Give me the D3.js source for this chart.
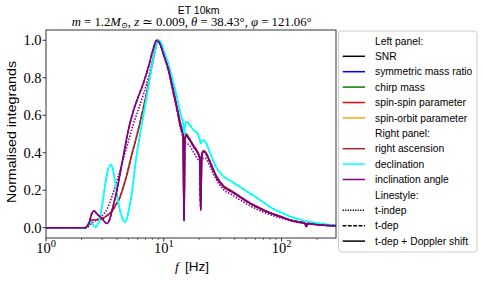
<!DOCTYPE html>
<html>
<head>
<meta charset="utf-8">
<script src="https://cdn.jsdelivr.net/npm/d3@7"></script>
<style>
  body { margin: 0; background: #fff; }
  svg { display: block; }
</style>
</head>
<body>
<svg id="chart" width="482" height="281"></svg>
<script>
// declination (t-dep + Doppler)
const decFreq = [1, 2.1, 2.25, 2.36, 2.5, 2.62, 2.8, 3.0, 3.2, 3.4, 3.55, 3.7, 3.9, 4.1, 4.4, 4.7, 5.0, 5.4, 5.8, 6.3, 6.8, 7.3, 7.8, 8.3, 8.8, 9.15, 9.6, 10.2, 11, 12, 13, 14, 14.6, 14.9, 15.2, 15.6, 16.5, 18, 19.5, 20.2, 20.6, 21.0, 21.6, 22.5, 25, 28, 32, 38, 45, 55, 65, 80, 100, 120, 140, 160, 200, 250, 290];
const decVal  = [0, 0, 0.01, 0.03, 0.015, 0.005, 0.03, 0.12, 0.24, 0.32, 0.335, 0.31, 0.23, 0.14, 0.06, 0.03, 0.08, 0.2, 0.36, 0.5, 0.62, 0.73, 0.84, 0.93, 0.99, 1.0, 0.98, 0.93, 0.87, 0.78, 0.69, 0.6, 0.56, 0.49, 0.55, 0.565, 0.55, 0.52, 0.5, 0.47, 0.45, 0.46, 0.468, 0.46, 0.39, 0.32, 0.275, 0.245, 0.215, 0.18, 0.15, 0.11, 0.08, 0.058, 0.045, 0.036, 0.025, 0.017, 0.014];

// inclination angle (t-dep + Doppler)
const incFreq = [1, 2.15, 2.3, 2.45, 2.55, 2.7, 2.85, 3.0, 3.15, 3.3, 3.45, 3.7, 4.0, 4.5, 5.0, 5.5, 6.0, 6.7, 7.5, 8.1, 8.7, 9.2, 10, 11, 12, 13, 14, 14.6, 14.86, 15.1, 15.5, 16.5, 18, 19.5, 20.2, 20.6, 21.0, 21.6, 22.5, 25, 28, 32, 38, 44, 52, 61, 72, 84, 100, 117, 140, 158, 162, 167, 200, 250, 290];
const incVal  = [0, 0, 0.02, 0.075, 0.09, 0.075, 0.06, 0.05, 0.03, 0.022, 0.04, 0.11, 0.2, 0.37, 0.52, 0.62, 0.69, 0.77, 0.87, 0.95, 1.0, 0.985, 0.92, 0.84, 0.73, 0.63, 0.53, 0.49, 0.037, 0.47, 0.49, 0.47, 0.43, 0.397, 0.37, 0.094, 0.38, 0.405, 0.4, 0.34, 0.27, 0.22, 0.19, 0.165, 0.135, 0.112, 0.09, 0.073, 0.057, 0.041, 0.03, 0.024, 0.005, 0.022, 0.016, 0.012, 0.01];

// inclination angle (t-indep)
const incIndepFreq = [1, 2.2, 2.4, 2.6, 2.8, 3.0, 3.3, 3.6, 4.0, 4.5, 5.0, 5.5, 6.0, 6.7, 7.4, 8.0, 8.6, 8.9, 9.3, 10, 11, 12, 13, 14, 15, 16.5, 18, 20, 21, 22.5, 25, 28, 32, 38, 44, 52, 61, 72, 84, 100, 120, 160, 200, 290];
const incIndepVal  = [0, 0, 0.02, 0.035, 0.05, 0.065, 0.1, 0.16, 0.25, 0.36, 0.46, 0.55, 0.62, 0.71, 0.8, 0.89, 0.98, 1.0, 0.985, 0.92, 0.83, 0.72, 0.62, 0.52, 0.46, 0.44, 0.4, 0.36, 0.37, 0.37, 0.32, 0.255, 0.205, 0.175, 0.15, 0.122, 0.1, 0.08, 0.065, 0.05, 0.036, 0.022, 0.015, 0.01];

// right ascension (t-dep + Doppler)
const raFreq = [1, 2.15, 2.3, 2.45, 2.7, 3.0, 3.3, 3.6, 3.9, 4.2, 4.5, 4.85, 5.3, 5.9, 6.5, 7.1, 7.8, 8.4, 8.9, 9.3, 10, 11, 12, 13, 14, 14.6, 14.86, 15.1, 15.5, 16.5, 18, 19.5, 20.2, 20.6, 21.0, 21.6, 22.5, 25, 28, 32, 38, 44, 52, 61, 72, 84, 100, 117, 140, 158, 162, 167, 200, 250, 290];
const raVal  = [0, 0, 0.02, 0.04, 0.042, 0.048, 0.065, 0.085, 0.12, 0.155, 0.21, 0.28, 0.38, 0.49, 0.6, 0.71, 0.84, 0.94, 1.0, 0.985, 0.93, 0.85, 0.74, 0.64, 0.545, 0.5, 0.04, 0.48, 0.5, 0.475, 0.435, 0.4, 0.375, 0.1, 0.385, 0.41, 0.405, 0.345, 0.275, 0.225, 0.195, 0.168, 0.138, 0.114, 0.092, 0.075, 0.058, 0.042, 0.031, 0.025, 0.006, 0.023, 0.017, 0.012, 0.01];

const yTicks = [0, 0.2, 0.4, 0.6, 0.8, 1.0];
const xMajor = [1, 10, 100];
const xMinor = [2, 3, 4, 5, 6, 7, 8, 9, 20, 30, 40, 50, 60, 70, 80, 90, 200];

// legend rows: label, colour (null = header), dash
const legendLabels = ["Left panel:", "SNR", "symmetric mass ratio", "chirp mass", "spin-spin parameter", "spin-orbit parameter", "Right panel:", "right ascension", "declination", "inclination angle", "Linestyle:", "t-indep", "t-dep", "t-dep + Doppler shift"];
const legendColors = [null, "black", "blue", "green", "red", "orange", null, "brown", "cyan", "purple", null, "black", "black", "black"];
const legendDash = [null, null, null, null, null, null, null, null, null, null, null, "1.2,1.3", "3.7,1.6", null];

const svg = d3.select("#chart");
const serif = "'Liberation Serif', 'DejaVu Serif', serif";
const sans = "'Liberation Sans', 'DejaVu Sans', sans-serif";

const x = d3.scaleLog().domain([1, 290]).range([46, 336]);
const y = d3.scaleLinear().domain([-0.055, 1.055]).range([238, 30]);

svg.append("clipPath").attr("id", "plot-clip")
  .append("rect")
  .attr("x", x.range()[0]).attr("y", y.range()[1])
  .attr("width", x.range()[1] - x.range()[0])
  .attr("height", y.range()[0] - y.range()[1]);

const line = d3.line()
  .x(d => x(d[0]))
  .y(d => y(d[1]))
  .curve(d3.curveMonotoneX);

const zip = (fs, vs) => fs.map((f, i) => [f, vs[i]]);

// curves: t-indep (dotted) under, then t-dep (dashed), t-dep + Doppler (solid)
const curves = [
  { data: zip(incIndepFreq, incIndepVal), color: "purple", dash: "1.5,1.5" },
  { data: zip(raFreq, raVal), color: "brown", dash: "3.7,1.6" },
  { data: zip(raFreq, raVal), color: "brown", dash: null },
  { data: zip(decFreq, decVal), color: "cyan", dash: "3.7,1.6" },
  { data: zip(decFreq, decVal), color: "cyan", dash: null },
  { data: zip(incFreq, incVal), color: "purple", dash: "3.7,1.6" },
  { data: zip(incFreq, incVal), color: "purple", dash: null }
];

const plot = svg.append("g").attr("clip-path", "url(#plot-clip)");
curves.forEach(c => {
  plot.append("path")
    .attr("d", line(c.data))
    .attr("fill", "none")
    .attr("stroke", c.color)
    .attr("stroke-width", 1.6)
    .attr("stroke-dasharray", c.dash);
});

// frame
svg.append("rect")
  .attr("x", 46).attr("y", 30)
  .attr("width", 290).attr("height", 208)
  .attr("fill", "none")
  .attr("stroke", "#333")
  .attr("stroke-width", 1);

// y ticks
yTicks.forEach(t => {
  svg.append("line")
    .attr("x1", 46).attr("x2", 42.5)
    .attr("y1", y(t)).attr("y2", y(t))
    .attr("stroke", "#333");
  svg.append("text")
    .attr("x", 41.5).attr("y", y(t))
    .attr("dy", "0.34em")
    .attr("text-anchor", "end")
    .attr("font-family", serif)
    .attr("font-size", 14.5)
    .text(t.toFixed(1));
});

// x ticks
xMajor.forEach(t => {
  svg.append("line")
    .attr("x1", x(t)).attr("x2", x(t))
    .attr("y1", 238).attr("y2", 241.5)
    .attr("stroke", "#333");
  const lab = svg.append("text")
    .attr("x", x(t)).attr("y", 252.5)
    .attr("text-anchor", "middle")
    .attr("font-family", serif)
    .attr("font-size", 14.5);
  lab.append("tspan").text("10");
  lab.append("tspan").attr("dy", -6).attr("font-size", 10.5).text(Math.round(Math.log10(t)));
});
xMinor.forEach(t => {
  svg.append("line")
    .attr("x1", x(t)).attr("x2", x(t))
    .attr("y1", 238).attr("y2", 240)
    .attr("stroke", "#333")
    .attr("stroke-width", 0.7);
});

// axis labels
svg.append("text")
  .attr("transform", "translate(16,132) rotate(-90)")
  .attr("text-anchor", "middle")
  .attr("font-family", sans)
  .attr("font-size", 13.5)
  .attr("textLength", 142)
  .attr("lengthAdjust", "spacingAndGlyphs")
  .text("Normalised integrands");

const xl = svg.append("text")
  .attr("x", 192).attr("y", 271)
  .attr("text-anchor", "middle")
  .attr("font-size", 13.5);
xl.append("tspan").attr("font-family", serif).attr("font-style", "italic").text("f");
xl.append("tspan").attr("font-family", sans).text("\u2009 [Hz]");

// titles
svg.append("text")
  .attr("x", 198.6).attr("y", 14)
  .attr("text-anchor", "middle")
  .attr("font-family", sans)
  .attr("font-size", 10.5)
  .text("ET 10km");

const sub = svg.append("text")
  .attr("x", 191.7).attr("y", 26)
  .attr("text-anchor", "middle")
  .attr("font-family", serif)
  .attr("font-size", 12.5)
  .attr("textLength", 240)
  .attr("lengthAdjust", "spacingAndGlyphs");
[["m", true], [" = 1.2", false], ["M", true], ["\u2299", false, true], [", ", false], ["z", true], [" \u2243 0.009, ", false], ["\u03b8", true], [" = 38.43\u00b0, ", false], ["\u03c6", true], [" = 121.06\u00b0", false]]
  .forEach(([s, it, subs]) => {
    const ts = sub.append("tspan").text(s);
    if (it) ts.attr("font-style", "italic");
    if (subs) ts.attr("font-size", 8).attr("dy", 2);
    else if (s.startsWith(",")) ts.attr("dy", -2);
  });

// legend
const legend = svg.append("g");
legend.append("rect")
  .attr("x", 338.5).attr("y", 31)
  .attr("width", 138.5).attr("height", 221)
  .attr("rx", 3)
  .attr("fill", "white").attr("fill-opacity", 0.8)
  .attr("stroke", "#ccc");

legendLabels.forEach((lab, i) => {
  const cy = 40.9 + i * 15.4;
  if (legendColors[i]) {
    legend.append("line")
      .attr("x1", 342.7).attr("x2", 365)
      .attr("y1", cy).attr("y2", cy)
      .attr("stroke", legendColors[i])
      .attr("stroke-width", 1.5)
      .attr("stroke-dasharray", legendDash[i]);
  }
  legend.append("text")
    .attr("x", 375).attr("y", cy)
    .attr("dy", "0.35em")
    .attr("font-family", sans)
    .attr("font-size", 10.3)
    .text(lab);
});
</script>
</body>
</html>
